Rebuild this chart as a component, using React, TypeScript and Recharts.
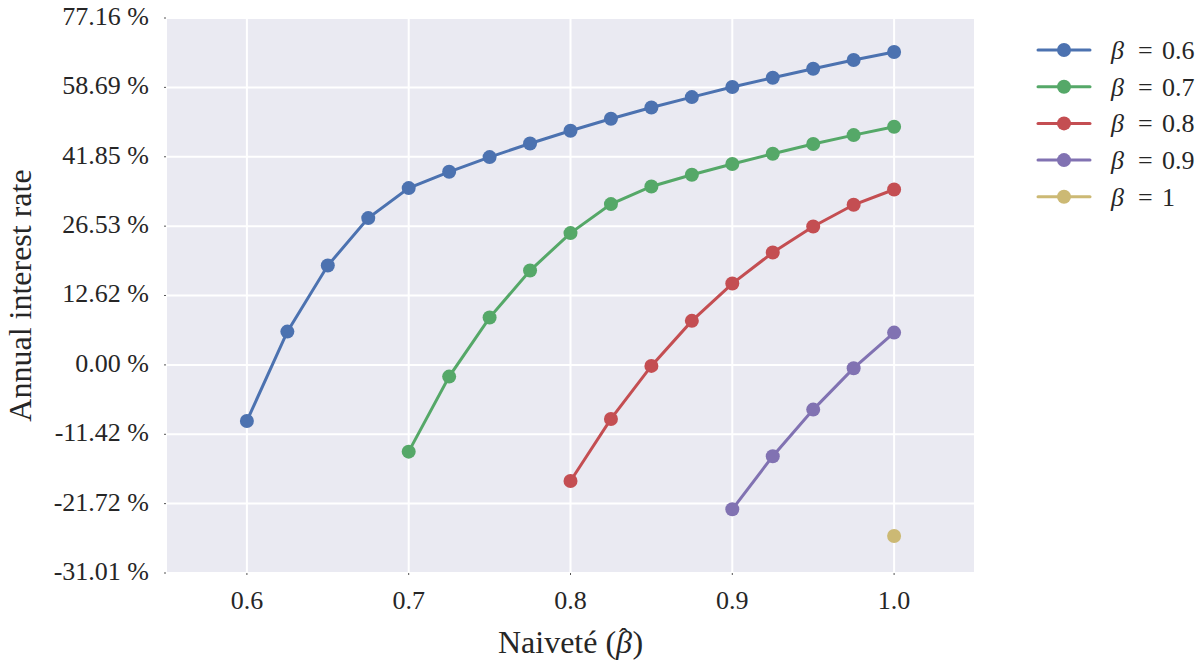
import React from "react";
import { LineChart, Line, XAxis, YAxis, CartesianGrid } from "recharts";

const FONT = '"Liberation Serif", "Times New Roman", serif';
const TEXT = "#262626";

// naiveté values on the x axis
const naivete = [0.6, 0.625, 0.65, 0.675, 0.7, 0.725, 0.75, 0.775, 0.8, 0.825, 0.85, 0.875, 0.9, 0.925, 0.95, 0.975, 1.0];

// annual interest rate in %, each series starts at x = its beta
const rateBeta06 = [-9.31, 5.9, 18.46, 28.23, 34.75, 38.41, 41.78, 44.96, 47.97, 50.88, 53.65, 56.24, 58.78, 61.16, 63.49, 65.77, 67.89];
const rateBeta07 = [-14.1, -2.01, 8.47, 17.47, 25.07, 31.24, 35.11, 37.73, 40.17, 42.54, 44.82, 46.94, 48.94];
const rateBeta08 = [-18.47, -8.99, -0.17, 7.86, 14.92, 21.08, 26.45, 31.09, 34.44];
const rateBeta09 = [-22.52, -14.79, -7.49, -0.57, 5.72];
const rateBeta10 = [-26.18];

const xTicks = [0.6, 0.7, 0.8, 0.9, 1.0];
const yTickRates = [-31.01, -21.72, -11.42, 0, 12.62, 26.53, 41.85, 58.69, 77.16];

const series = [
  { key: "b06", label: "0.6", start: 0, values: rateBeta06, color: "#4C72B0" },
  { key: "b07", label: "0.7", start: 4, values: rateBeta07, color: "#55A868" },
  { key: "b08", label: "0.8", start: 8, values: rateBeta08, color: "#C44E52" },
  { key: "b09", label: "0.9", start: 12, values: rateBeta09, color: "#8172B2" },
  { key: "b10", label: "1", start: 16, values: rateBeta10, color: "#CCB974" },
];

// the y axis is linear in the per-period factor, rate = u^6 - 1
const toU = (r: number) => Math.pow(1 + r / 100, 1 / 6);
const fmtRate = (u: number) => ((Math.pow(u, 6) - 1) * 100).toFixed(2) + " %";

const data = naivete.map((x, i) => {
  const row: Record<string, number | null> = { x };
  series.forEach((s) => {
    const j = i - s.start;
    row[s.key] = j >= 0 && j < s.values.length ? toU(s.values[j]) : null;
  });
  return row;
});

const yTicks = yTickRates.map(toU);

const YTick = (props: any) => {
  const { x, y, payload } = props;
  return (
    <text x={x} y={y} dy={7} textAnchor="end" fontSize={26} fontFamily={FONT} fill={TEXT}>
      {fmtRate(payload.value)}
    </text>
  );
};

const XTick = (props: any) => {
  const { x, y, payload } = props;
  return (
    <text x={x} y={y} dy={18} textAnchor="middle" fontSize={26} fontFamily={FONT} fill={TEXT}>
      {payload.value.toFixed(1)}
    </text>
  );
};

const YLabel = (props: any) => {
  const vb = props.viewBox || { x: 0, y: 18, width: 166, height: 555 };
  const cy = vb.y + vb.height / 2;
  return (
    <text
      x={31}
      y={cy}
      transform={`rotate(-90, 31, ${cy})`}
      textAnchor="middle"
      fontSize={32}
      fontFamily={FONT}
      fill={TEXT}
    >
      Annual interest rate
    </text>
  );
};

const XLabel = (props: any) => {
  const vb = props.viewBox || { x: 166, y: 573, width: 809, height: 89 };
  const cx = vb.x + vb.width / 2;
  const base = vb.y + 80;
  return (
    <text x={cx} y={base} textAnchor="middle" fontSize={32} fontFamily={FONT} fill={TEXT}>
      Naiveté (<tspan fontStyle="italic">β</tspan>
      <tspan dx={-13} dy={-6} fontSize={28}>ˆ</tspan>
      <tspan dx={4} dy={6}>)</tspan>
    </text>
  );
};

function LegendBox() {
  const top = 50;
  const step = 36.7;
  return (
    <svg width={1202} height={662} style={{ position: "absolute", left: 0, top: 0, pointerEvents: "none" }}>
      {series.map((s, i) => {
        const cy = top + i * step;
        return (
          <g key={s.key}>
            <line x1={1038} x2={1090} y1={cy} y2={cy} stroke={s.color} strokeWidth={3} strokeLinecap="round" />
            <circle cx={1064} cy={cy} r={7} fill={s.color} />
            <text y={cy + 9} fontSize={26} fontFamily={FONT} fill={TEXT}>
              <tspan x={1111} fontStyle="italic">β</tspan>
              <tspan x={1138}>=</tspan>
              <tspan x={1162}>{s.label}</tspan>
            </text>
          </g>
        );
      })}
    </svg>
  );
}

export default function App() {
  return (
    <div style={{ position: "absolute", left: 0, top: 0, width: 1202, height: 662, background: "#fff" }}>
      <LineChart width={1202} height={662} data={data} margin={{ top: 18, right: 227, bottom: 0, left: 0 }}>
        <CartesianGrid fill="#EAEAF2" stroke="#ffffff" strokeWidth={2} />
        <XAxis
          dataKey="x"
          type="number"
          domain={[0.55, 1.05]}
          ticks={xTicks}
          height={89}
          axisLine={false}
          tickLine={{ stroke: "#555" }}
          tickSize={2}
          tickMargin={16}
          tick={<XTick />}
          label={<XLabel />}
        />
        <YAxis
          type="number"
          domain={[yTicks[0], yTicks[yTicks.length - 1]]}
          ticks={yTicks}
          width={166}
          axisLine={false}
          tickLine={{ stroke: "#555" }}
          tickSize={2}
          tickMargin={15}
          tick={<YTick />}
          label={<YLabel />}
          allowDataOverflow
        />
        {series.map((s) => (
          <Line
            key={s.key}
            dataKey={s.key}
            name={`β = ${s.label}`}
            stroke={s.color}
            strokeWidth={3}
            dot={{ r: 7, fill: s.color, stroke: "none" }}
            activeDot={false}
            isAnimationActive={false}
          />
        ))}
      </LineChart>
      <LegendBox />
    </div>
  );
}
